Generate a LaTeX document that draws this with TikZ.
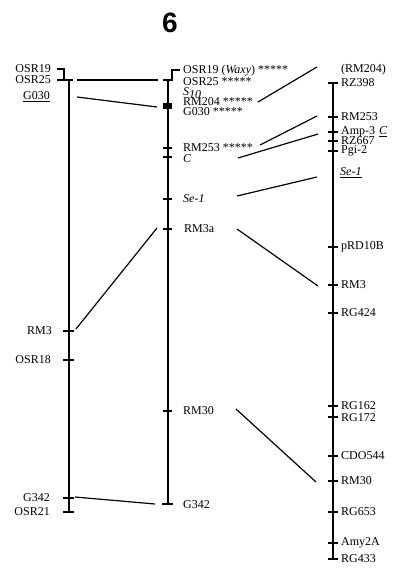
\documentclass[tikz,border=0pt]{standalone}
\usepackage{fontspec}
\setmainfont{Liberation Serif}
\newfontfamily\titlefont{Liberation Sans}
\begin{document}
\begin{tikzpicture}[x=1pt,y=-1pt,
  chrom/.style={line width=1.7pt},
  tickmark/.style={line width=1.3pt},
  conn/.style={line width=1.2pt},
  lab/.style={font=\fontsize{12}{12}\selectfont, inner sep=0pt},
  llab/.style={lab, anchor=east},
  rlab/.style={lab, anchor=west}]
\useasboundingbox (0,0) rectangle (394,571);
\node[font=\titlefont\bfseries\fontsize{28}{28}\selectfont, inner sep=0pt] (title) at (170,23) {6};

% ---------- left chromosome ----------
\coordinate (Ltop) at (69,80);
\coordinate (Lbot) at (69,512);
\draw[chrom] (Ltop) -- (Lbot);
\draw[tickmark] (57,69) -- (64,69) -- (64,80);
\draw[tickmark] (57,80) -- (73,80);
\foreach \y in {331,360,498} \draw[tickmark] (63,\y) -- (74,\y);
\draw[tickmark] (63,512) -- (74,512);
\node[llab] (lOSR19) at (51,69) {OSR19};
\node[llab] (lOSR25) at (51,80) {OSR25};
\node[llab] (lG030) at (50,97) {\underline{G030}};
\node[llab] (lRM3) at (52,331) {RM3};
\node[llab] (lOSR18) at (51,360) {OSR18};
\node[llab] (lG342) at (50,498) {G342};
\node[llab] (lOSR21) at (50,512) {OSR21};

% ---------- middle chromosome ----------
\coordinate (Mtop) at (168,80);
\coordinate (Mbot) at (168,504);
\draw[chrom] (Mtop) -- (Mbot);
\draw[tickmark] (180,70) -- (172,70) -- (172,80);
\draw[tickmark] (163,80) -- (173,80);
\foreach \y in {104,106,108,148,157,199,229,411} \draw[tickmark] (163,\y) -- (172,\y);
\draw[tickmark] (162,504) -- (173,504);
\node[rlab] (mOSR19) at (183,71) {OSR19 (\textit{Waxy}) *****};
\node[rlab] (mOSR25) at (183,82) {OSR25 *****};
\node[rlab] (mS10) at (183,93) {\textit{S}\raisebox{-2.5pt}{\textit{10}}};
\node[rlab] (mRM204) at (183,102) {RM204 *****};
\node[rlab] (mG030) at (183,112) {G030 *****};
\node[rlab] (mRM253) at (183,148) {RM253 *****};
\node[rlab] (mC) at (183,159) {\textit{C}};
\node[rlab] (mSe1) at (183,199) {\textit{Se-1}};
\node[rlab] (mRM3a) at (184,229) {RM3a};
\node[rlab] (mRM30) at (183,411) {RM30};
\node[rlab] (mG342) at (183,505) {G342};

% ---------- right chromosome ----------
\coordinate (Rtop) at (333,83);
\coordinate (Rbot) at (333,559);
\draw[chrom] (Rtop) -- (Rbot);
\draw[tickmark] (328,83) -- (338,83);
\draw[tickmark] (328,559) -- (338,559);
\foreach \y in {117,132,141,151,247,285,313,406,417,456,481,512,543} \draw[tickmark] (328,\y) -- (338,\y);
\node[rlab] (rRM204) at (341,70) {(RM204)};
\node[rlab] (rRZ398) at (341,83) {RZ398};
\node[rlab] (rRM253) at (341,117) {RM253};
\node[rlab] (rAmp3) at (341,132) {Amp-3\hspace{4pt}\underline{\textit{C}}};
\node[rlab] (rRZ667) at (341,141) {RZ667};
\node[rlab] (rPgi2) at (341,151) {Pgi-2};
\node[rlab] (rSe1) at (340,173) {\underline{\textit{Se-1}}};
\node[rlab] (rpRD10B) at (341,247) {pRD10B};
\node[rlab] (rRM3) at (341,285) {RM3};
\node[rlab] (rRG424) at (341,313) {RG424};
\node[rlab] (rRG162) at (341,406) {RG162};
\node[rlab] (rRG172) at (341,418) {RG172};
\node[rlab] (rCDO544) at (341,456) {CDO544};
\node[rlab] (rRM30) at (341,481) {RM30};
\node[rlab] (rRG653) at (341,512) {RG653};
\node[rlab] (rAmy2A) at (341,543) {Amy2A};
\node[rlab] (rRG433) at (341,559) {RG433};

% ---------- connectors ----------
\coordinate (a1) at (77,80);   \coordinate (b1) at (158,80);
\coordinate (a2) at (77,97);   \coordinate (b2) at (157,107);
\coordinate (a3) at (258,102); \coordinate (b3) at (317,67);
\coordinate (a4) at (260,145); \coordinate (b4) at (317,116);
\coordinate (a5) at (238,158); \coordinate (b5) at (318,134);
\coordinate (a6) at (237,196); \coordinate (b6) at (317,177);
\coordinate (a7) at (76,329);  \coordinate (b7) at (157,228);
\coordinate (a8) at (237,229); \coordinate (b8) at (318,286);
\coordinate (a9) at (236,409); \coordinate (b9) at (316,482);
\coordinate (a10) at (75,497); \coordinate (b10) at (155,504);
\foreach \i in {1,...,10} \draw[conn] (a\i) -- (b\i);
\end{tikzpicture}
\end{document}
